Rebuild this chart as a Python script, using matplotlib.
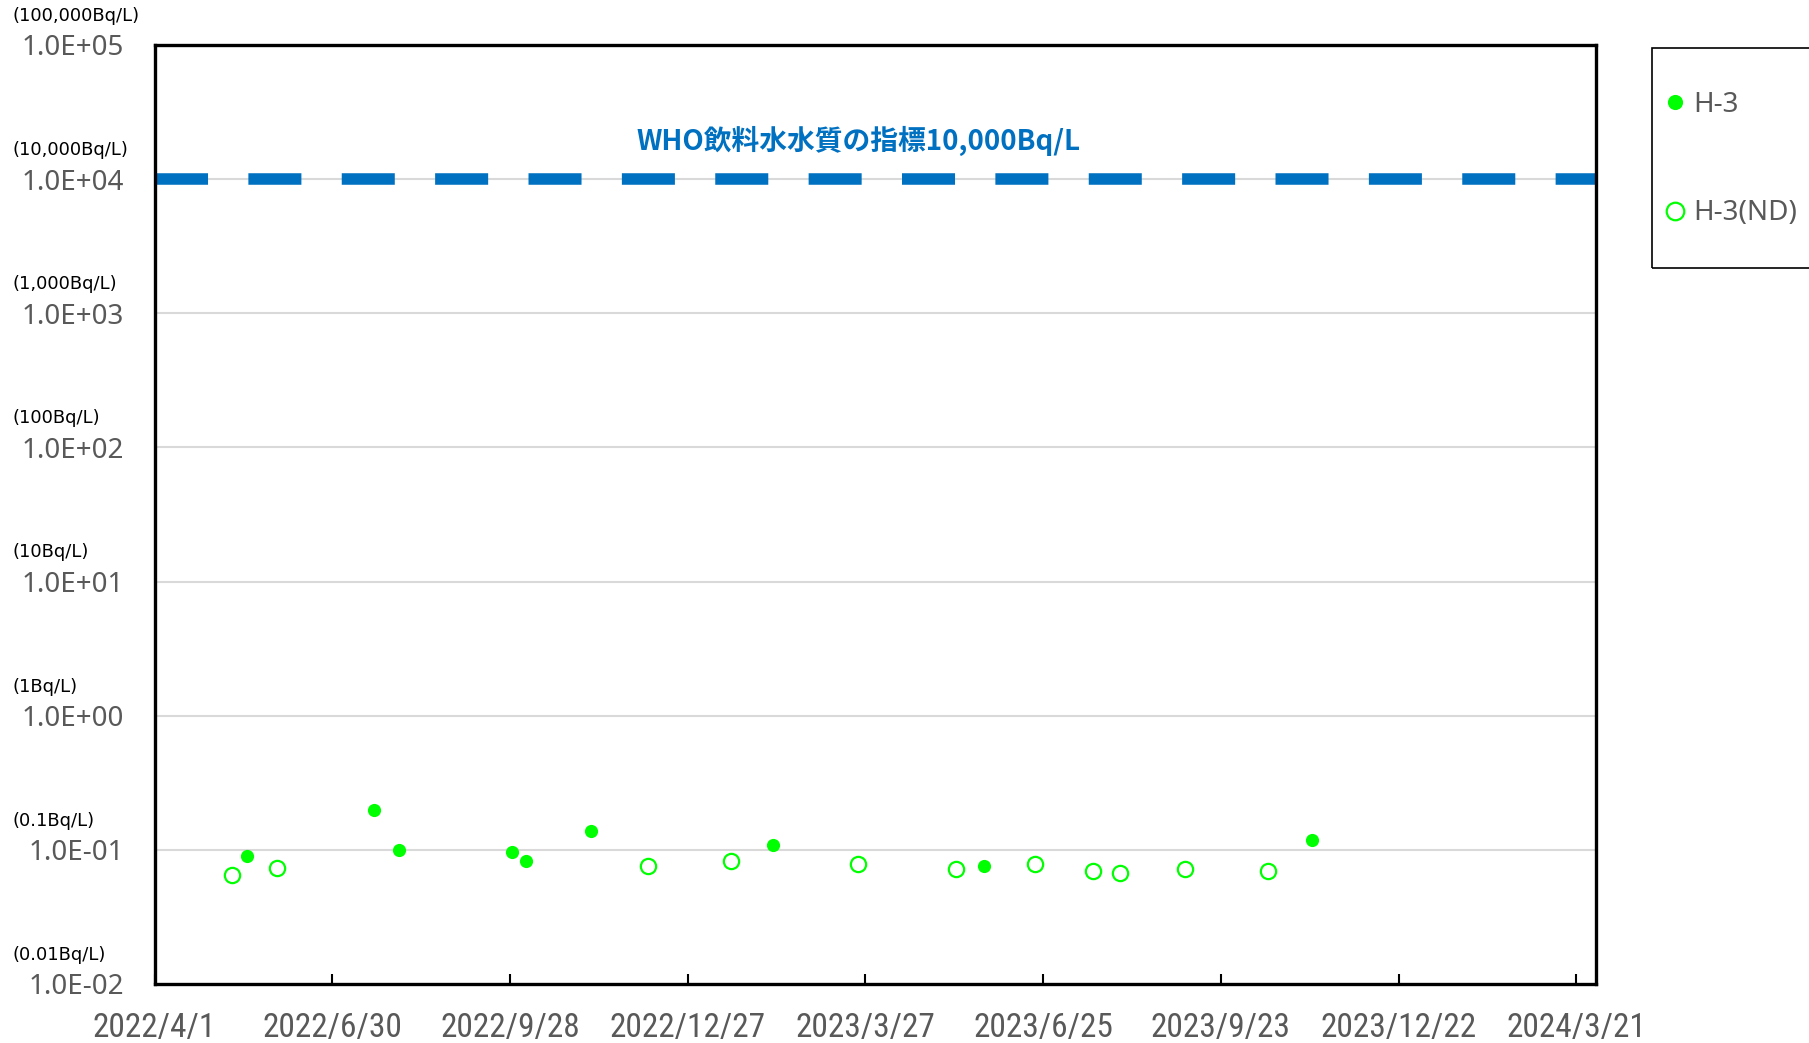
import pandas as pd
import matplotlib.pyplot as plt
import matplotlib.dates as mdates
import matplotlib.transforms as mtransforms
from matplotlib import font_manager
from matplotlib.patches import Rectangle
import numpy as np

# H-3 detected values (Bq/L)
h3_dates = ['2022-05-18', '2022-07-21', '2022-08-03', '2022-09-29', '2022-10-06',
            '2022-11-08', '2023-02-08', '2023-05-26', '2023-11-08']
h3_values = [0.090, 0.197, 0.099, 0.097, 0.082, 0.138, 0.109, 0.076, 0.118]

# H-3 not detected (detection limit, Bq/L)
nd_dates = ['2022-05-10', '2022-06-02', '2022-12-07', '2023-01-18', '2023-03-23',
            '2023-05-12', '2023-06-21', '2023-07-20', '2023-08-03', '2023-09-05',
            '2023-10-17']
nd_values = [0.065, 0.073, 0.076, 0.082, 0.078, 0.072, 0.079, 0.070, 0.067, 0.072, 0.070]

who_limit = 10000
who_label = 'WHO飲料水水質の指標10,000Bq/L'

y_ticks = [1e-2, 1e-1, 1e0, 1e1, 1e2, 1e3, 1e4, 1e5]
y_units = ['(0.01Bq/L)', '(0.1Bq/L)', '(1Bq/L)', '(10Bq/L)', '(100Bq/L)',
           '(1,000Bq/L)', '(10,000Bq/L)', '(100,000Bq/L)']

start = pd.Timestamp('2022-04-01')
end = pd.Timestamp('2024-03-31')
x_ticks = [start + pd.Timedelta(days=90 * k) for k in range(9)]

h3_dates = pd.to_datetime(h3_dates)
nd_dates = pd.to_datetime(nd_dates)

gray = '#595959'
green = '#00FF00'
blue = '#0070C0'


def narrow_font(size):
    # look for a condensed sans for the date labels, else plain DejaVu a bit smaller
    wanted = ['Liberation Sans Narrow', 'Roboto Condensed', 'Open Sans Condensed',
              'Noto Sans', 'DejaVu Sans']
    fonts = font_manager.fontManager.ttflist
    for name in wanted:
        for f in fonts:
            if f.name != name or f.style != 'normal' or f.weight not in (400, 'normal'):
                continue
            if 'Narrow' in name or 'Condensed' in name or \
                    (f.stretch in ('condensed', 'semi-condensed', 'extra-condensed')
                     and 'Condensed' in f.fname):
                return font_manager.FontProperties(fname=f.fname, size=size)
    return font_manager.FontProperties(family='DejaVu Sans', size=size * 0.82)


fig = plt.figure(figsize=(18.09, 10.43), dpi=100)
ax = fig.add_axes([0.08546, 0.05657, 0.7968, 0.9003])

ax.set_yscale('log')
ax.set_ylim(1e-2, 1e5)
ax.set_xlim(start, end)

# grid first so the markers sit on top
for v in y_ticks[1:-1]:
    ax.axhline(v, color='#D9D9D9', lw=1.5, zorder=1)

# WHO guideline
ax.axhline(who_limit, color=blue, lw=8.3, dashes=(4.6, 3.5), dash_capstyle='butt',
           solid_capstyle='butt', zorder=2)
ax.text(0.488, 0.898, who_label, transform=ax.transAxes, ha='center', va='center',
        color=blue, fontsize=20, fontweight='bold', family=['Noto Sans CJK JP', 'DejaVu Sans'])

ax.plot(h3_dates, h3_values, 'o', color=green, markersize=9.5, mec=green, mew=0,
        label='H-3', zorder=4)
ax.plot(nd_dates, nd_values, 'o', mfc='none', mec=green, markersize=11, mew=1.6,
        label='H-3(ND)', zorder=4)

# axes styling
for s in ax.spines.values():
    s.set_linewidth(2.4)
    s.set_color('black')

ax.set_xticks(x_ticks)
ax.xaxis.set_major_formatter(plt.FuncFormatter(
    lambda v, p: '{0.year}/{0.month}/{0.day}'.format(mdates.num2date(v))))
ax.tick_params(axis='x', direction='in', length=7, width=1.5, color='black', pad=20,
               labelcolor=gray)
xfont = narrow_font(24)
for t in ax.get_xticklabels():
    t.set_fontproperties(xfont)

ax.yaxis.set_major_locator(plt.FixedLocator(y_ticks))
ax.yaxis.set_minor_locator(plt.NullLocator())
ax.yaxis.set_major_formatter(plt.FuncFormatter(lambda v, p: '%.1E' % v))
ax.tick_params(axis='y', length=0, pad=22, labelsize=20, labelcolor=gray)
for t in ax.get_yticklabels():
    t.set_family(['Noto Sans', 'DejaVu Sans'])

# unit labels above each y tick
trans = mtransforms.blended_transform_factory(fig.transFigure, ax.transData)
trans = mtransforms.offset_copy(trans, fig=fig, y=21, units='points')
for v, u in zip(y_ticks, y_units):
    ax.text(0.007, v, u, transform=trans, ha='left', va='center', fontsize=13,
            color='black', clip_on=False)

# legend box sticking out past the right edge
fig.patches.append(Rectangle((0.9132, 0.743), 0.1, 0.211, transform=fig.transFigure,
                             fill=False, edgecolor='black', lw=1.2))
leg = fig.legend(loc='center left', bbox_to_anchor=(0.9135, 0.8476), frameon=False,
                 fontsize=20, labelspacing=2.9, handlelength=0.6, handletextpad=0.35,
                 borderpad=0, labelcolor=gray, markerscale=1.15)
for t in leg.get_texts():
    t.set_family(['Noto Sans', 'DejaVu Sans'])

plt.savefig('out.png', dpi=100)
